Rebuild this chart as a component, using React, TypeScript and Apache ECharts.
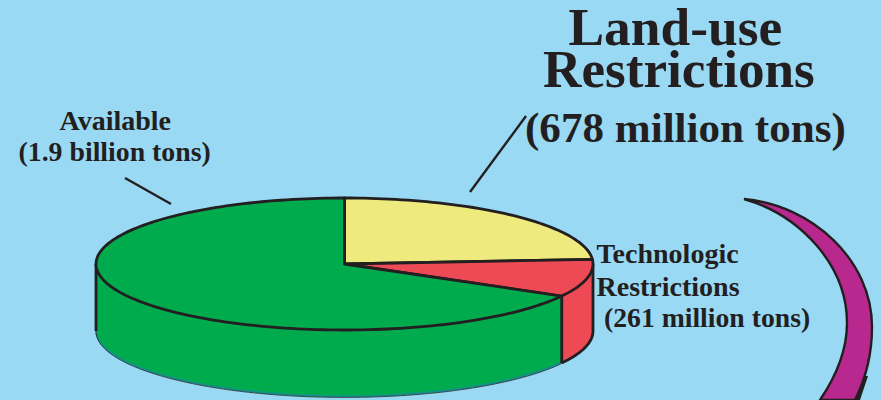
import React, { useEffect, useRef } from "react";
import * as echarts from "echarts";

const sliceNames = ["Land-use Restrictions", "Technologic Restrictions", "Available"];
const sliceValues = [678, 261, 1900];
const sliceColors = ["#eeea7d", "#ee4a55", "#00ab4e"];

const INK = "#231f20";
const BG = "#99d9f4";
const SERIF = '"Liberation Serif", "Times New Roman", serif';

const CX = 344.5, CY = 264, RX = 248.5, RY = 66, DEPTH = 67, START = 90;
const STROKE = 2.8;

echarts.graphic.registerShape(
  "crescent",
  echarts.graphic.extendPath(
    "M744,199 C812,205 872,260 872,327 C872,355 865,380 855,400 L820,400 C839,372 847,345 847,323 C847,265 800,215 744,199 Z",
    {}
  )
);

const total = sliceValues.reduce((a, b) => a + b, 0);

function arc(a0: number, a1: number, dy = 0): number[][] {
  const n = Math.max(2, Math.ceil(Math.abs(a1 - a0) / 1.5));
  const pts: number[][] = [];
  for (let i = 0; i <= n; i++) {
    const a = ((a0 + ((a1 - a0) * i) / n) * Math.PI) / 180;
    pts.push([CX + RX * Math.cos(a), CY - RY * Math.sin(a) + dy]);
  }
  return pts;
}

function renderSlice(params: any, api: any) {
  const idx = params.dataIndex;
  const before = sliceValues.slice(0, idx).reduce((a, b) => a + b, 0);
  const a0 = START - (before / total) * 360;
  const a1 = a0 - (api.value(0) / total) * 360;
  const fill = sliceColors[idx];
  const children: any[] = [];

  // visible front wall: the part of the slice's rim below the horizon (0 .. -180 deg)
  const wFrom = Math.min(a0, 0);
  const wTo = Math.max(a1, -180);
  if (wFrom > wTo) {
    const top = arc(wFrom, wTo);
    const bottom = arc(wFrom, wTo, DEPTH);
    children.push({
      type: "polygon",
      shape: { points: top.concat(bottom.slice().reverse()) },
      style: { fill, stroke: null },
    });
    const isLarge = wTo <= -180;
    if (isLarge) {
      children.push({
        type: "polyline",
        shape: { points: arc(wFrom, wTo, DEPTH - 1) },
        style: { fill: null, stroke: "#12908f", lineWidth: 1.6 },
      });
      children.push({
        type: "polyline",
        shape: { points: arc(wFrom, wTo, DEPTH + 0.4) },
        style: { fill: null, stroke: INK, lineWidth: 0.8 },
      });
    } else {
      children.push({
        type: "polyline",
        shape: { points: arc(wFrom, wTo, DEPTH) },
        style: { fill: null, stroke: INK, lineWidth: STROKE },
      });
    }
    // vertical edges of the wall
    const edge = (p: number[]) => ({
      type: "polyline",
      shape: { points: [p, [p[0], p[1] + DEPTH]] },
      style: { fill: null, stroke: INK, lineWidth: STROKE },
    });
    children.push(edge(top[0]));
    children.push(edge(top[top.length - 1]));
  }

  // top face
  children.push({
    type: "polygon",
    shape: { points: [[CX, CY], ...arc(a0, a1)] },
    style: { fill, stroke: INK, lineWidth: STROKE, lineJoin: "round" },
  });
  return { type: "group", children };
}

const text = (t: string, x: number, baseline: number, size: number) => ({
  type: "text",
  x,
  y: baseline,
  style: {
    text: t,
    fill: INK,
    font: `bold ${size}px ${SERIF}`,
    textAlign: "left",
    textVerticalAlign: "bottom",
  },
});

export default function App() {
  const ref = useRef<HTMLDivElement>(null);
  useEffect(() => {
    const chart = echarts.init(ref.current!, undefined, { renderer: "svg", width: 881, height: 400 });
    chart.setOption({
      animation: false,
      backgroundColor: BG,
      series: [
        {
          type: "custom",
          coordinateSystem: "none",
          silent: true,
          renderItem: renderSlice,
          data: sliceValues.map((v, i) => ({ name: sliceNames[i], value: [v] })),
        },
      ],
      graphic: [
        { type: "crescent", x: 0, y: 0, style: { fill: "#b8288f", stroke: INK, lineWidth: 2.4 } },
        { type: "polygon", shape: { points: [[865, 376], [868, 376], [860, 400], [855, 400]] }, style: { fill: INK } },
        { type: "line", shape: { x1: 125, y1: 178, x2: 171, y2: 204 }, style: { stroke: INK, lineWidth: 2.4 } },
        { type: "line", shape: { x1: 470, y1: 192, x2: 526, y2: 116 }, style: { stroke: INK, lineWidth: 2.4 } },
        text("Land-use", 568.5, 53, 53.4),
        text("Restrictions", 543, 96, 53.2),
        text("(678 million tons)", 525, 149, 43.1),
        text("Available", 59.5, 134, 28),
        text("(1.9 billion tons)", 18.5, 165, 27.8),
        text("Technologic", 596.5, 267, 28),
        text("Restrictions", 596.5, 300, 28),
        text("(261 million tons)", 604, 331, 27.7),
      ],
    });
    return () => chart.dispose();
  }, []);
  return <div ref={ref} style={{ position: "fixed", left: 0, top: 0, width: 881, height: 400 }} />;
}
